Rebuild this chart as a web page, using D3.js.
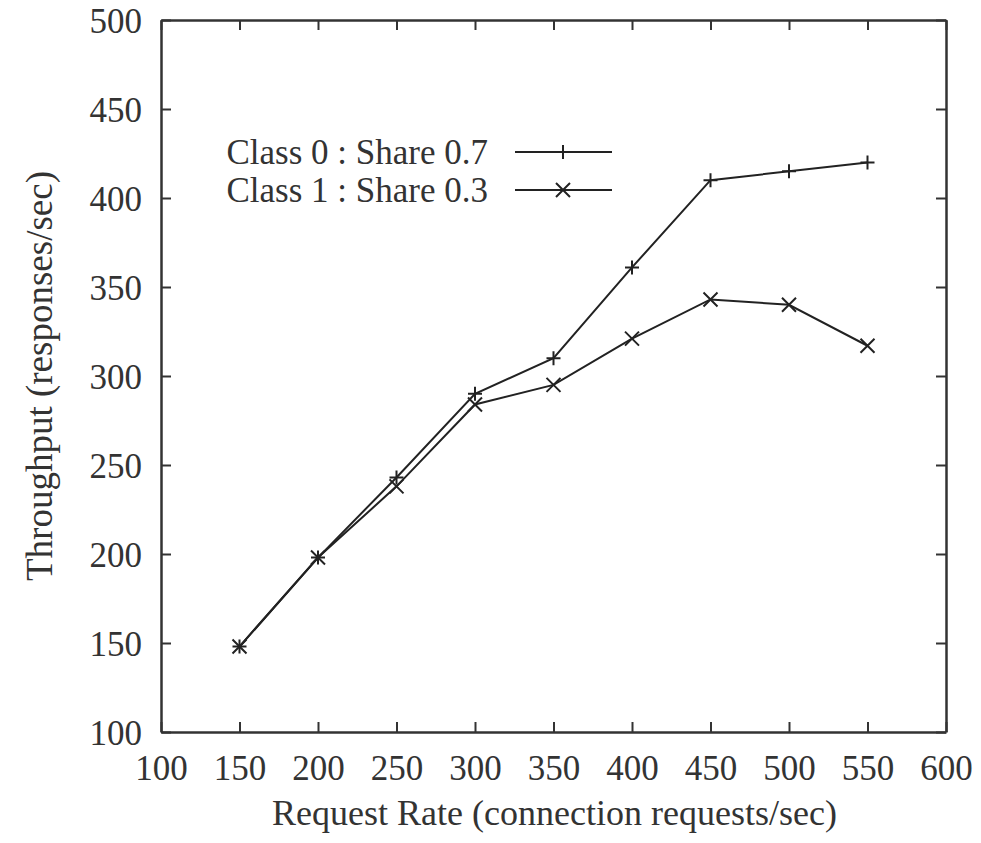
<!DOCTYPE html>
<html>
<head>
<meta charset="utf-8">
<script src="https://cdn.jsdelivr.net/npm/d3@7"></script>
<style>
  body { margin: 0; background: #fff; }
  svg { font-family: "Liberation Serif", "DejaVu Serif", serif; }
</style>
</head>
<body>
<svg id="chart"></svg>
<script>
const rates = [150, 200, 250, 300, 350, 400, 450, 500, 550];
const class0 = [148, 198, 243, 290, 310, 361, 410, 415, 420];
const class1 = [148, 198, 238, 284, 295, 321, 343, 340, 317];
const xTicks = [100, 150, 200, 250, 300, 350, 400, 450, 500, 550, 600];
const yTicks = [100, 150, 200, 250, 300, 350, 400, 450, 500];

const width = 981, height = 843;
const margin = {left: 161, right: 35, top: 20, bottom: 111};
const ink = '#333';
const serif = '"Liberation Serif", "DejaVu Serif", serif';

const svg = d3.select('#chart')
    .attr('width', width)
    .attr('height', height);

const x = d3.scaleLinear().domain([100, 600]).range([margin.left, width - margin.right]);
const y = d3.scaleLinear().domain([100, 500]).range([height - margin.bottom, margin.top]);

// frame + inward ticks on all sides
const tickLen = 10;
svg.append('g')
    .attr('transform', `translate(0,${y(100)})`)
    .call(d3.axisBottom(x).tickValues(xTicks).tickSizeInner(-tickLen).tickSizeOuter(0).tickPadding(0))
    .call(g => g.selectAll('text').attr('y', 36).attr('dy', '0.35em'));
svg.append('g')
    .attr('transform', `translate(0,${y(500)})`)
    .call(d3.axisTop(x).tickValues(xTicks).tickSizeInner(-tickLen).tickSizeOuter(0).tickFormat(''));
svg.append('g')
    .attr('transform', `translate(${x(100)},0)`)
    .call(d3.axisLeft(y).tickValues(yTicks).tickSizeInner(-tickLen).tickSizeOuter(0).tickPadding(0))
    .call(g => g.selectAll('text').attr('x', -19).attr('dy', '0.35em'));
svg.append('g')
    .attr('transform', `translate(${x(600)},0)`)
    .call(d3.axisRight(y).tickValues(yTicks).tickSizeInner(-tickLen).tickSizeOuter(0).tickFormat(''));

svg.selectAll('g').attr('font-family', serif).attr('font-size', 35);
svg.selectAll('.tick text').attr('fill', ink);
svg.selectAll('.domain').attr('stroke', ink).attr('stroke-width', 2.5);
svg.selectAll('.tick line').attr('stroke', ink).attr('stroke-width', 2);

// axis titles
svg.append('text')
    .attr('x', (x(100) + x(600)) / 2 + 1)
    .attr('y', 825)
    .attr('text-anchor', 'middle')
    .attr('font-size', 36)
    .attr('fill', ink)
    .text('Request Rate (connection requests/sec)');

svg.append('text')
    .attr('transform', `translate(52,${(y(100) + y(500)) / 2}) rotate(-90)`)
    .attr('text-anchor', 'middle')
    .attr('font-size', 37)
    .attr('fill', ink)
    .text('Throughput (responses/sec)');

// series
const line = d3.line().x(d => x(d[0])).y(d => y(d[1]));
const series = [
  {name: 'Class 0 : Share 0.7', values: class0, mark: 'plus'},
  {name: 'Class 1 : Share 0.3', values: class1, mark: 'cross'}
];

function drawMark(g, type, cx, cy) {
  const s = 7;
  if (type === 'plus') {
    g.append('path').attr('d', `M${cx - s},${cy}H${cx + s}M${cx},${cy - s}V${cy + s}`);
  } else {
    g.append('path').attr('d', `M${cx - s},${cy - s}L${cx + s},${cy + s}M${cx - s},${cy + s}L${cx + s},${cy - s}`);
  }
}

series.forEach(s => {
  const pts = rates.map((r, i) => [r, s.values[i]]);
  svg.append('path')
      .datum(pts)
      .attr('d', line)
      .attr('fill', 'none')
      .attr('stroke', '#222')
      .attr('stroke-width', 2);
  const mg = svg.append('g').attr('stroke', '#222').attr('stroke-width', 2).attr('fill', 'none');
  pts.forEach(p => drawMark(mg, s.mark, x(p[0]), y(p[1])));
});

// legend
const legendY = [152, 190];
series.forEach((s, i) => {
  svg.append('text')
      .attr('x', 488)
      .attr('y', legendY[i])
      .attr('dy', '0.35em')
      .attr('text-anchor', 'end')
      .attr('font-size', 35)
      .attr('fill', ink)
      .text(s.name);
  svg.append('line')
      .attr('x1', 515).attr('x2', 612)
      .attr('y1', legendY[i]).attr('y2', legendY[i])
      .attr('stroke', '#222').attr('stroke-width', 2);
  const mg = svg.append('g').attr('stroke', '#222').attr('stroke-width', 2).attr('fill', 'none');
  drawMark(mg, s.mark, 563, legendY[i]);
});
</script>
</body>
</html>
